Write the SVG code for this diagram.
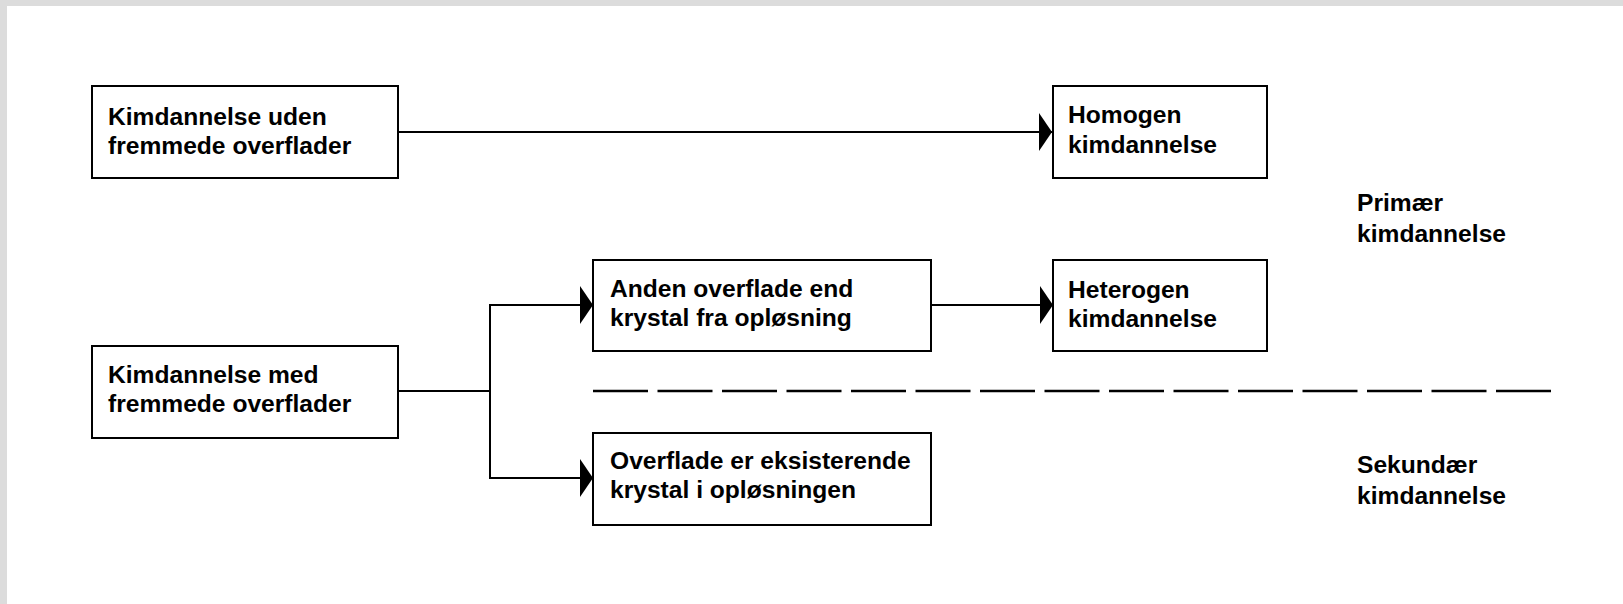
<svg xmlns="http://www.w3.org/2000/svg" width="1623" height="604" viewBox="0 0 1623 604">
<style>
.box{fill:#fff;stroke:#000;stroke-width:2}
.t{font-family:"Liberation Sans",Arial,sans-serif;font-weight:bold;font-size:24.6px;fill:#000}
.c{fill:none;stroke:#000;stroke-width:2}
.d{fill:none;stroke:#000;stroke-width:2.5;stroke-dasharray:55 9.5}
</style>
<defs>
<marker id="ah" markerUnits="userSpaceOnUse" markerWidth="14" markerHeight="40" refX="13" refY="19" orient="auto" viewBox="0 0 14 40">
<path d="M0,0 L13,19 L0,38 Z" fill="#000"/>
</marker>
</defs>
<rect x="0" y="0" width="1623" height="604" fill="#fff"/>
<rect x="0" y="0" width="1623" height="6" fill="#dcdcdc"/>
<rect x="0" y="0" width="7" height="604" fill="#dcdcdc"/>
<g id="connectors">
<line class="c" x1="398" y1="132" x2="1052" y2="132" marker-end="url(#ah)"/>
<polyline class="c" points="398,391 490,391"/>
<polyline class="c" points="490,305 490,478"/>
<line class="c" x1="489" y1="305" x2="593" y2="305" marker-end="url(#ah)"/>
<line class="c" x1="489" y1="478" x2="593" y2="478" marker-end="url(#ah)"/>
<line class="c" x1="931" y1="305" x2="1053" y2="305" marker-end="url(#ah)"/>
<line class="d" x1="593" y1="391" x2="1553" y2="391"/>
</g>
<g id="n1">
<rect class="box" x="92" y="86" width="306" height="92"/>
<text class="t" x="108" y="125">Kimdannelse uden</text>
<text class="t" x="108" y="154">fremmede overflader</text>
</g>
<g id="n2">
<rect class="box" x="1053" y="86" width="214" height="92"/>
<text class="t" x="1068" y="123">Homogen</text>
<text class="t" x="1068" y="153">kimdannelse</text>
</g>
<g id="n3">
<rect class="box" x="92" y="346" width="306" height="92"/>
<text class="t" x="108" y="383">Kimdannelse med</text>
<text class="t" x="108" y="412">fremmede overflader</text>
</g>
<g id="n4">
<rect class="box" x="593" y="260" width="338" height="91"/>
<text class="t" x="610" y="297">Anden overflade end</text>
<text class="t" x="610" y="326">krystal fra opløsning</text>
</g>
<g id="n5">
<rect class="box" x="1053" y="260" width="214" height="91"/>
<text class="t" x="1068" y="298">Heterogen</text>
<text class="t" x="1068" y="327">kimdannelse</text>
</g>
<g id="n6">
<rect class="box" x="593" y="433" width="338" height="92"/>
<text class="t" x="610" y="469">Overflade er eksisterende</text>
<text class="t" x="610" y="498">krystal i opløsningen</text>
</g>
<g id="primaer">
<text class="t" x="1357" y="211">Primær</text>
<text class="t" x="1357" y="242">kimdannelse</text>
</g>
<g id="sekundaer">
<text class="t" x="1357" y="473">Sekundær</text>
<text class="t" x="1357" y="504">kimdannelse</text>
</g>
</svg>
